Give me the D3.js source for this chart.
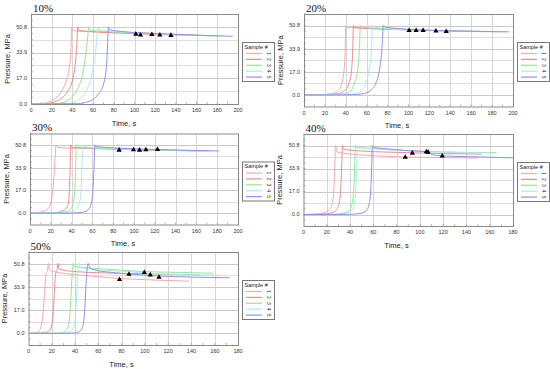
<!DOCTYPE html>
<html>
<head>
<meta charset="utf-8">
<script src="https://cdn.jsdelivr.net/npm/d3@7"></script>
<style>
  body { margin: 0; background: #fff; }
  text { font-family: "Liberation Sans", Arial, sans-serif; }
  text.ptitle { font-family: "Liberation Serif", "Times New Roman", serif; }
</style>
</head>
<body>
<svg width="550" height="369"></svg>
<script>
// pressure vs time, one panel per percentage, 5 samples each

var panelTitles = ["10%", "20%", "30%", "40%", "50%"];
var sampleNames = ["1", "2", "3", "4", "5"];
var xMaxes = [200, 200, 200, 180, 180];
var yMins = [0, -8.467, -8.467, -8.467, -8.467];
var yMax = 59.27;
var yTickValues = [0, 16.93, 33.87, 50.8];
var yTickLabels = ["0.0", "17.0", "33.9", "50.8"];

// [time s, pressure MPa]
var curves10 = [
  [[0,0],[10,0.2],[15,0.8],[20,2.2],[25,4.5],[30,9],[34,15],[37,24],[38.5,34],[39.4,50.8],[40.5,48.6],[45,48],[60,47.5],[100,46.3],[130,45.6],[160,45.2]],
  [[0,0],[15,0.2],[20,0.8],[25,2],[30,4],[35,8],[40,15.5],[42.5,25],[44.2,38],[45.2,50.8],[46.5,48.5],[60,47.6],[100,46.5],[130,45.8],[170,45]],
  [[0,0],[25,0.2],[30,0.8],[35,2],[40,4.8],[45,10],[50,20],[53,33],[54.8,44],[55.8,50.8],[57,48.6],[70,47.8],[100,46.8],[140,45.7],[180,44.8]],
  [[0,0],[35,0.2],[40,0.8],[45,2],[50,5],[55,11],[60,23],[62.5,35],[63.8,45],[64.5,50.8],[65.5,49],[80,47.8],[110,46.6],[150,45.5],[185,44.7]],
  [[0,0],[45,0.2],[50,0.6],[55,1.5],[60,3],[65,6.5],[70,13],[73,26],[74.2,42],[74.8,50.8],[75.8,49],[90,47.6],[120,46.5],[160,45.3],[195,44.6]]
];
var curves20 = [
  [[0,0],[15,0.1],[20,0.3],[25,0.8],[30,1.6],[33,3.2],[36,8],[38,16],[39.3,30],[40,50.8],[41,49.5],[50,49],[80,48.2],[100,47.6],[140,46.8],[165,46.4]],
  [[0,0],[20,0.1],[30,0.6],[35,1.5],[40,4],[43,8.5],[45.5,18],[46.7,35],[47.3,50.8],[48.3,49.4],[60,48.8],[100,47.6],[140,46.9],[175,46.3]],
  [[0,0],[25,0.1],[35,0.6],[40,1.2],[45,3],[48,8],[51,17],[53,33],[54,50.8],[55,49.6],[70,48.8],[100,47.8],[150,46.8],[185,46.3]],
  [[0,0],[35,0.1],[45,0.5],[50,1.2],[55,3],[59,8],[62,17],[64.5,33],[65.8,50.8],[66.8,49.8],[80,48.6],[120,47.2],[160,46.6],[190,46.2]],
  [[0,0],[40,0.05],[50,0.3],[58,1.2],[64,3.5],[69,9],[72,17.5],[74.5,33],[76,50.8],[77,49.8],[90,48.7],[130,47.1],[170,46.5],[196,46.2]]
];
var curves30 = [
  [[0,0],[5,0.3],[10,0.8],[15,2],[18,4],[20,7.5],[21.5,14],[23,27],[24.2,42],[25,50.8],[26,49],[35,48.5],[60,48],[100,47.2],[140,46.6],[165,46.3]],
  [[0,0],[10,0.05],[20,0.2],[28,0.8],[33,2.2],[36,5],[37.5,12],[38.5,30],[39.2,50.8],[40.2,49],[60,48.3],[100,47.3],[140,46.6],[170,46.3]],
  [[0,0],[20,0.1],[30,0.5],[36,1.5],[40,4],[42.5,12],[43.8,30],[44.6,50.8],[45.6,49.2],[60,48.5],[100,47.4],[140,46.7],[160,46.4]],
  [[0,0],[25,0.05],[35,0.4],[42,1.5],[46,4.5],[48.5,12],[49.8,30],[50.7,50.8],[51.7,49.4],[70,48.5],[110,47.3],[150,46.6],[175,46.3]],
  [[0,0],[30,0],[40,0.05],[50,0.6],[55,2],[58.5,6],[60.5,17],[61.6,35],[62.3,50.8],[63.3,49.6],[80,48.6],[120,47.4],[160,46.6],[182,46.3]]
];
var curves40 = [
  [[0,0],[10,0.2],[16,1],[20,2.2],[23,4.5],[25,10],[26.3,22],[27,38],[27.5,50.8],[29,46],[40,44.5],[60,43.3],[87,42.4],[120,41.9],[150,41.6]],
  [[0,0],[15,0.2],[22,0.8],[27,2.5],[30,6],[31.8,16],[32.8,35],[33.5,50.8],[34.5,48],[45,47],[70,46],[93.5,45.4],[153,44.5]],
  [[0,0],[20,0.1],[30,0.5],[36,1.5],[40,4],[42.5,12],[43.8,30],[44.7,50.8],[45.7,49.5],[55,48.8],[80,47.4],[105.5,46.4],[166,45.5]],
  [[0,0],[25,0.1],[34,0.5],[39,1.6],[42.5,4.5],[44.5,14],[45.6,32],[46.4,50.8],[47.4,49.4],[60,48.5],[90,47],[107,46.1],[160,45.4]],
  [[0,0],[30,0],[42,0.2],[50,1],[54,3],[56.5,8],[58,22],[58.7,38],[59.1,50.8],[60,49.5],[70,48.5],[90,47],[106,46.2],[108,45.5],[111,44],[119,43.2],[150,42.4],[180,41.7]]
];
var curves50 = [
  [[0,0],[5,0.3],[8,1],[10,3],[11.5,8],[13,20],[14.3,36],[15.3,44],[16.3,45.5],[17.2,51],[18.2,46],[25,44.5],[50,42],[78,40],[110,38.8],[138,38]],
  [[0,0],[10,0.2],[15,0.8],[18,2],[20,6],[21.5,18],[22.7,38],[23.8,45],[24.6,46.5],[25.3,51],[26.3,47],[40,45],[86,43.6],[120,43],[147,42.6]],
  [[0,0],[20,0.1],[28,0.6],[32,2],[34.5,6],[36,20],[37.3,40],[38.4,51],[39.4,48.8],[55,47.5],[80,46],[99.5,45],[130,44.4],[159,43.8]],
  [[0,0],[25,0.1],[33,0.6],[37,2],[39.5,7],[41,22],[42.3,43],[43.6,51],[44.6,48],[60,46.3],[85,45],[104.6,43.6],[135,42.8],[165,42.3]],
  [[0,0],[30,0],[40,0.4],[44,1.5],[46.5,5],[48.3,17],[49.6,38],[51.3,51],[52.5,48],[58,46],[70,44.5],[90,43],[112,41.8],[140,41],[173,40.5]]
];

// black triangle markers
var marks10 = [[101.3,46.0],[105.8,45.4],[116.8,45.8],[124.5,45.4],[135.2,45.2]];
var marks20 = [[100.6,47.2],[107.3,47.2],[114,47.2],[126.2,46.8],[136.1,46.5]];
var marks30 = [[85.7,46.9],[99.5,47.1],[105.3,46.9],[111.4,47.1],[122.6,47.4]];
var marks40 = [[87.4,42.2],[93.5,45.2],[105.5,46.2],[107,45.9],[119.2,43.0]];
var marks50 = [[78.2,39.2],[86.3,43.1],[99.5,44.3],[104.6,42.6],[112.1,40.9]];

var allCurves = [curves10, curves20, curves30, curves40, curves50];
var allMarks = [marks10, marks20, marks30, marks40, marks50];

var colors = ["#f7a8a8", "#ef8c8c", "#92e892", "#a9ede4", "#8e90f2"];

// plot boxes [left, top, right, bottom]
var boxes = [
  [31, 14, 238, 104],
  [304, 14, 513, 106.5],
  [30, 133.5, 238, 224.5],
  [303.5, 134, 513, 226],
  [28.5, 252, 238, 345]
];

var svg = d3.select("svg");
svg.append("rect").attr("width", 550).attr("height", 369).attr("fill", "#fff");

panelTitles.forEach(function(title, p) {
  var b = boxes[p];
  var x = d3.scaleLinear().domain([0, xMaxes[p]]).range([b[0], b[2]]);
  var y = d3.scaleLinear().domain([yMins[p], yMax]).range([b[3], b[1]]);
  var g = svg.append("g");

  g.append("clipPath").attr("id", "clip" + p)
    .append("rect").attr("x", b[0]).attr("y", b[1])
    .attr("width", b[2] - b[0]).attr("height", b[3] - b[1]);

  // grid
  var hLines = d3.range(-1, 8).map(function(k) { return k * 8.467; })
    .filter(function(v) { return v > yMins[p] + 0.1 && v < yMax - 0.1; });
  g.selectAll(".hg").data(hLines).enter().append("line")
    .attr("x1", b[0]).attr("x2", b[2])
    .attr("y1", function(d) { return Math.round(y(d)) + 0.5; })
    .attr("y2", function(d) { return Math.round(y(d)) + 0.5; })
    .attr("stroke", function(d, i) { return Math.round(d / 8.467) % 2 === 0 ? "#c9c9c9" : "#dedede"; })
    .attr("stroke-width", 1);
  var vLines = d3.range(20, xMaxes[p], 20);
  g.selectAll(".vg").data(vLines).enter().append("line")
    .attr("y1", b[1]).attr("y2", b[3])
    .attr("x1", function(d) { return Math.round(x(d)) + 0.5; })
    .attr("x2", function(d) { return Math.round(x(d)) + 0.5; })
    .attr("stroke", "#d6d6d6");

  // minor ticks
  g.selectAll(".xt").data(d3.range(10, xMaxes[p], 10)).enter().append("line")
    .attr("x1", function(d) { return x(d); }).attr("x2", function(d) { return x(d); })
    .attr("y1", b[3]).attr("y2", b[3] - 2)
    .attr("stroke", "#888").attr("stroke-width", 0.6);
  g.selectAll(".yt").data(d3.range(-2, 15).map(function(k) { return k * 4.2335; })
      .filter(function(v) { return v > yMins[p] && v < yMax; }))
    .enter().append("line")
    .attr("x1", b[0]).attr("x2", b[0] + 2)
    .attr("y1", function(d) { return y(d); }).attr("y2", function(d) { return y(d); })
    .attr("stroke", "#888").attr("stroke-width", 0.6);

  // sample curves
  var line = d3.line()
    .x(function(d) { return x(d[0]); })
    .y(function(d) { return y(d[1]); })
    .curve(d3.curveMonotoneX);
  g.append("g").attr("clip-path", "url(#clip" + p + ")")
    .selectAll("path").data(allCurves[p]).enter().append("path")
    .attr("d", line)
    .attr("fill", "none")
    .attr("stroke", function(d, i) { return colors[i]; })
    .attr("stroke-width", 1);

  // markers
  g.selectAll(".mk").data(allMarks[p]).enter().append("path")
    .attr("d", d3.symbol().type(d3.symbolTriangle).size(12))
    .attr("transform", function(d) { return "translate(" + x(d[0]) + "," + y(d[1]) + ")"; })
    .attr("fill", "#000");

  // frame
  g.append("rect")
    .attr("x", b[0] + 0.5).attr("y", b[1] + 0.5)
    .attr("width", b[2] - b[0]).attr("height", b[3] - b[1])
    .attr("fill", "none").attr("stroke", "#8a8a8a");

  // tick labels
  g.selectAll(".yl").data(yTickValues).enter().append("text")
    .attr("x", b[0] - 4).attr("y", function(d) { return y(d); })
    .attr("dy", "0.35em").attr("text-anchor", "end")
    .attr("font-size", 5.5).attr("fill", "#333")
    .text(function(d, i) { return yTickLabels[i]; });
  g.selectAll(".xl").data(d3.range(0, xMaxes[p] + 1, 20)).enter().append("text")
    .attr("x", function(d) { return x(d); }).attr("y", b[3] + 8)
    .attr("text-anchor", "middle")
    .attr("font-size", 5.5).attr("fill", "#333")
    .text(function(d) { return d; });

  // axis titles
  g.append("text")
    .attr("x", b[0] + 93).attr("y", b[3] + 21.5)
    .attr("text-anchor", "middle").attr("font-size", 7.5).attr("fill", "#222")
    .text("Time, s");
  g.append("text")
    .attr("transform", "translate(" + (b[0] - 24) + "," + ((b[1] + b[3]) / 2) + ") rotate(-90)")
    .attr("dy", "0.35em")
    .attr("text-anchor", "middle").attr("font-size", 7.5).attr("fill", "#222")
    .text("Pressure, MPa");

  // panel title
  g.append("text").attr("class", "ptitle")
    .attr("x", b[0] + 2).attr("y", b[1] - 2.5)
    .attr("font-size", 11).attr("fill", "#111")
    .text(title);

  // legend
  var lx = b[2] + 4, ly = b[1] + 28;
  var lg = g.append("g");
  lg.append("rect").attr("x", lx + 0.5).attr("y", ly + 0.5)
    .attr("width", 32).attr("height", 39)
    .attr("fill", "#fff").attr("stroke", "#777");
  lg.append("text").attr("x", lx + 2.5).attr("y", ly + 6.5)
    .attr("font-size", 5.5).attr("fill", "#222").text("Sample #");
  sampleNames.forEach(function(name, i) {
    var ry = ly + 11.5 + i * 5.9;
    lg.append("line").attr("x1", lx + 4).attr("x2", lx + 20)
      .attr("y1", ry).attr("y2", ry)
      .attr("stroke", colors[i]).attr("stroke-width", 1.2);
    lg.append("text")
      .attr("transform", "translate(" + (lx + 27) + "," + ry + ") rotate(90)")
      .attr("text-anchor", "middle").attr("dy", "0.35em")
      .attr("font-size", 5).attr("fill", "#333")
      .text(name);
  });
});
</script>
</body>
</html>
